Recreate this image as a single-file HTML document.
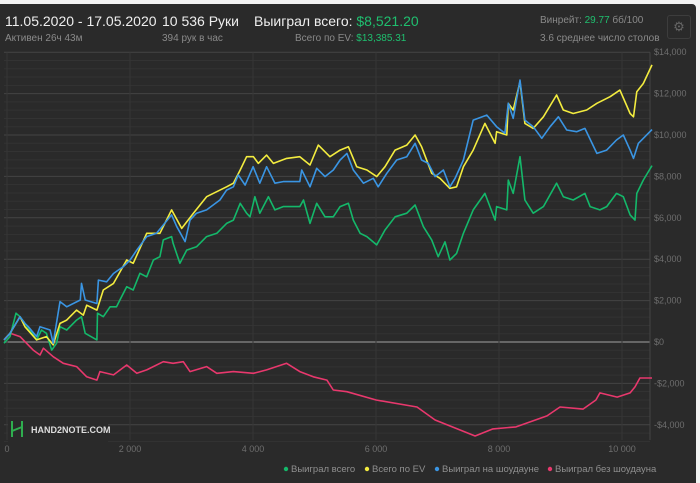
<!DOCTYPE html>
<html><head><meta charset="utf-8">
<style>
body{margin:0;background:#f2f2f2;width:700px;height:483px;overflow:hidden;font-family:"Liberation Sans","Noto Sans CJK SC",sans-serif;}
#card{position:absolute;left:0;top:4px;width:696px;height:479px;background:#2a2a2a;border-radius:0 4px 0 0;}
.t{position:absolute;white-space:nowrap;}
.big{color:#eee;font-size:14px;}
.sm{color:#8a8a8a;font-size:10px;}
.g{color:#1fbf6f;}
#gear{position:absolute;left:667px;top:15px;width:22px;height:22px;border:1px solid #3d3d3d;border-radius:3px;color:#666;font-size:13px;text-align:center;line-height:22px;}
svg{position:absolute;left:0;top:0;}
</style></head><body>
<div id="card"></div>
<div class="t big" style="left:5px;top:13px">11.05.2020 - 17.05.2020</div>
<div class="t sm" style="left:5px;top:33px">Активен 26ч 43м</div>
<div class="t big" style="left:162px;top:13px">10 536 Руки</div>
<div class="t sm" style="left:162px;top:33px">394 рук в час</div>
<div class="t big" style="left:254px;top:13px">Выиграл всего: <span class="g">$8,521.20</span></div>
<div class="t sm" style="left:295px;top:33px">Всего по EV: <span class="g">$13,385.31</span></div>
<div class="t sm" style="left:540px;top:15px">Винрейт: <span class="g">29.77</span> бб/100</div>
<div class="t sm" style="left:540px;top:33px">3.6 среднее число столов</div>
<div id="gear">⚙</div>
<svg id="chart" width="700" height="483"></svg>
<script>
const xTicks=[0,2000,4000,6000,8000,10000];
const xTickLabels=["0","2 000","4 000","6 000","8 000","10 000"];
const yTicks=[-4000,-2000,0,2000,4000,6000,8000,10000,12000,14000];
const yTickLabels=["-$4,000","-$2,000","$0","$2,000","$4,000","$6,000","$8,000","$10,000","$12,000","$14,000"];
const wonHands=[0,98,195,260,340,420,530,610,690,775,855,910,1020,1180,1260,1320,1510,1520,1615,1725,1830,1885,1995,2100,2210,2320,2430,2535,2590,2725,2750,2860,2970,3130,3295,3460,3620,3730,3840,3945,4000,4080,4160,4300,4405,4540,4810,4870,4975,5085,5220,5355,5465,5600,5680,5790,5900,6060,6195,6360,6550,6685,6820,6955,7060,7170,7250,7360,7470,7630,7820,7985,8010,8175,8200,8280,8390,8470,8605,8770,8985,9095,9255,9445,9530,9690,9800,9960,10070,10180,10260,10290,10395,10536];
const wonValues=[-60,260,1390,1220,900,580,100,580,420,-390,-60,740,580,1060,1220,420,100,1390,1220,1700,1700,2030,2670,2510,3320,3150,3960,4120,4930,5090,4770,3800,4440,4600,5090,5250,5730,5890,6700,6220,6050,7020,6220,7020,6380,6540,6540,6860,5730,6700,6050,6050,6540,6700,5890,5250,5090,4690,5410,6050,6220,6620,5570,4930,4120,4840,3960,4280,5250,6380,7180,5890,6540,6380,7820,7180,8950,6860,6220,6540,7670,7020,6860,7180,6540,6380,6540,7180,7020,6140,5890,7180,7820,8521];
const evHands=[0,98,260,340,530,690,800,910,1020,1180,1290,1345,1510,1615,1780,1995,2100,2320,2535,2725,2890,3080,3295,3620,3730,3840,3945,4055,4135,4270,4380,4595,4810,4975,5110,5300,5465,5600,5735,5900,6060,6195,6360,6550,6685,6790,6955,7090,7250,7360,7470,7630,7820,7985,8010,8175,8200,8280,8390,8470,8605,8770,8985,9095,9255,9475,9640,9855,10015,10180,10235,10290,10395,10536];
const evValues=[100,420,1220,740,100,260,-140,900,1060,1540,1300,1780,1540,2510,2830,3960,3800,5250,5250,6380,5490,6220,7020,7500,7670,8310,8950,8950,8630,9030,8630,8870,8950,8550,9510,8950,9270,9430,8470,8310,7990,8470,9270,9510,10000,9430,8150,7910,7420,7500,8470,9270,10560,9600,10160,10000,11530,11210,12570,10560,10320,10880,11930,11210,11040,11210,11530,11850,12170,11040,10880,12090,12490,13385];
const sdHands=[0,98,260,340,395,530,585,750,800,910,1020,1240,1260,1320,1510,1535,1670,1780,1860,1940,2050,2160,2320,2480,2590,2725,2810,2945,3025,3130,3295,3510,3620,3730,3810,3920,4050,4160,4270,4405,4540,4810,4840,4975,5085,5220,5355,5465,5575,5680,5845,6005,6085,6225,6385,6550,6685,6790,6900,7010,7145,7250,7335,7470,7630,7850,8010,8145,8200,8280,8390,8470,8605,8745,8880,9015,9150,9310,9445,9640,9800,9960,10070,10180,10235,10315,10536];
const sdValues=[100,420,1220,900,740,260,740,580,-60,1950,1700,2030,2830,2030,1860,2990,2910,3310,3480,3640,3960,4440,5090,5250,5650,6140,5570,4850,5890,6220,6380,6860,7340,7500,8070,7580,8470,7670,8470,7670,7750,7750,8310,7500,8390,7990,8310,8790,9110,8310,7670,7910,7500,8150,8790,8950,9600,8790,8630,7990,8310,7500,7910,8790,10720,10960,10400,10080,11530,10800,12650,10720,10400,9840,10400,10880,10240,10160,10320,9110,9270,9760,10000,9270,8870,9600,10260];
const nsdHands=[0,100,260,475,585,640,800,965,1180,1345,1510,1560,1780,1995,2160,2320,2590,2750,2915,3025,3295,3460,3730,4055,4270,4595,4810,5030,5250,5355,5575,6050,6715,7010,7660,7950,8325,8830,9040,9415,9625,9690,9970,10180,10260,10340,10536];
const nsdValues=[100,420,260,-390,-630,-300,-710,-1030,-1190,-1680,-1840,-1430,-1590,-1110,-1510,-1350,-950,-1030,-950,-1430,-1190,-1510,-1430,-1510,-1350,-1030,-1430,-1680,-1840,-2320,-2400,-2800,-3140,-3770,-4540,-4200,-4100,-3570,-3140,-3240,-2800,-2460,-2660,-2460,-2170,-1740,-1740];

const X0=4,X1=650,Ymin=-4800,Ymax=14000;
const xs=h=>X0+h*0.0615;
const ys=v=>342-v*0.0207;
const svg=document.getElementById('chart');
const NS='http://www.w3.org/2000/svg';
function mk(tag,attrs){const e=document.createElementNS(NS,tag);for(const k in attrs)e.setAttribute(k,attrs[k]);svg.appendChild(e);return e;}
// minor gridlines
for(let v=-4800;v<=14000;v+=400){
  const major=v%2000===0;
  const l=mk('line',{x1:X0,x2:X1,y1:ys(v),y2:ys(v),stroke:v===0?'#8a8a8a':(major?'#444':'#333'),'stroke-width':v===0?1.2:1});
  
  
}
xTicks.forEach((t,i)=>{
  const l=mk('line',{x1:xs(t)+3,x2:xs(t)+3,y1:ys(14000),y2:440,stroke:'#363636'});
  
  
  const tx=mk('text',{x:xs(t)+3,y:452,fill:'#6e6e6e','font-size':9,'text-anchor':'middle','font-family':'Liberation Sans'});
  tx.textContent=xTickLabels[i];
  
  
});
mk('line',{x1:X1,x2:X1,y1:ys(14000),y2:440,stroke:'#444'});
yTicks.forEach((t,i)=>{
  const tx=mk('text',{x:654,y:ys(t)+3,fill:'#6e6e6e','font-size':9,'font-family':'Liberation Sans'});
  tx.textContent=yTickLabels[i];
  
  
});
function series(h,v,color,name){
  const p=mk('polyline',{points:h.map((x,i)=>xs(x).toFixed(1)+','+ys(v[i]).toFixed(1)).join(' '),fill:'none',stroke:color,'stroke-width':1.6,'stroke-linejoin':'round'});
  
  
}
series(nsdHands,nsdValues,'#e8386d','non-showdown-line');
series(wonHands,wonValues,'#14b86a','total-won-line');
series(evHands,evValues,'#f3ec3f','ev-line');
series(sdHands,sdValues,'#3a95e3','showdown-line');
// logo
const lg=mk('rect',{x:8,y:417,width:100,height:26,fill:'#2a2a2a'});


const lp=mk('path',{d:'M12 421 v16 M22 421 v16 M12 431 L22 427',stroke:'#2fae4f','stroke-width':2,fill:'none'});


const lt=mk('text',{x:31,y:433,fill:'#ddd','font-size':9,'font-weight':'bold','font-family':'Liberation Sans'});
lt.textContent='HAND2NOTE.COM';


// legend
const legendLabels=['Выиграл всего','Всего по EV','Выиграл на шоудауне','Выиграл без шоудауна'];
const legendColors=['#14b86a','#f3ec3f','#3a95e3','#e8386d'];
const legendX=[286,367,437,550];
legendLabels.forEach((s,i)=>{
  const c=mk('circle',{cx:legendX[i],cy:469,r:2.2,fill:legendColors[i]});
  
  
  const t=mk('text',{x:legendX[i]+5,y:472,fill:'#8f8f8f','font-size':9.5,'font-family':'Liberation Sans'});
  t.textContent=s;
  
  
});
</script>
</body></html>
